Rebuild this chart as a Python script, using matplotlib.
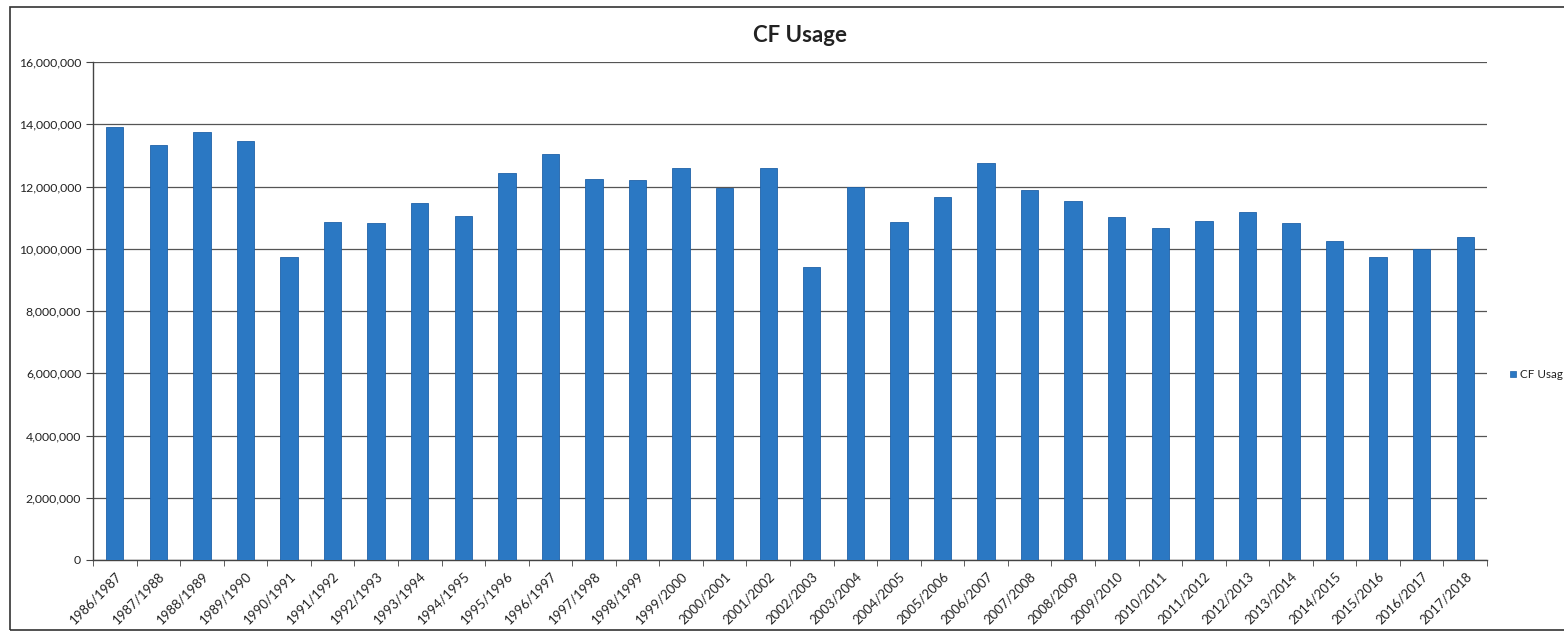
import matplotlib
matplotlib.use("Agg")
import numpy as np
import matplotlib.pyplot as plt
from matplotlib.patches import Rectangle
from matplotlib.ticker import FuncFormatter, MultipleLocator

seasons = ["1986/1987", "1987/1988", "1988/1989", "1989/1990", "1990/1991",
           "1991/1992", "1992/1993", "1993/1994", "1994/1995", "1995/1996",
           "1996/1997", "1997/1998", "1998/1999", "1999/2000", "2000/2001",
           "2001/2002", "2002/2003", "2003/2004", "2004/2005", "2005/2006",
           "2006/2007", "2007/2008", "2008/2009", "2009/2010", "2010/2011",
           "2011/2012", "2012/2013", "2013/2014", "2014/2015", "2015/2016",
           "2016/2017", "2017/2018"]
cf_usage = [13900000, 13320000, 13760000, 13460000, 9740000,
            10870000, 10830000, 11470000, 11060000, 12420000,
            13030000, 12240000, 12210000, 12600000, 11950000,
            12580000, 9400000, 11970000, 10850000, 11650000,
            12750000, 11900000, 11540000, 11020000, 10660000,
            10880000, 11170000, 10820000, 10250000, 9730000,
            9990000, 10380000]
legend_label = "CF Usag"

plt.rcParams["font.family"] = ["Lato", "DejaVu Sans"]
blue = "#2b78c3"

fig = plt.figure(figsize=(15.64, 6.35), dpi=100)
ax = fig.add_axes([93 / 1564, 1 - 560 / 635, (1487 - 93) / 1564, (560 - 62) / 635])

x = np.arange(len(seasons))
ax.bar(x, cf_usage, width=0.4, color=blue, edgecolor="#1f62a8", linewidth=0.6,
       zorder=3)

ax.set_xlim(-0.5, len(seasons) - 0.5)
ax.set_ylim(0, 16000000)
ax.yaxis.set_major_locator(MultipleLocator(2000000))
ax.yaxis.set_major_formatter(FuncFormatter(lambda v, _: f"{v:,.0f}"))
ax.grid(axis="y", color="#555555", linewidth=0.9, zorder=0)

ax.set_xticks(x)
ax.set_xticklabels(seasons, rotation=45, ha="right", rotation_mode="anchor",
                   fontsize=9.5, color="#222222")
ax.tick_params(axis="x", length=0, pad=7)
ax.set_xticks(np.arange(-0.5, len(seasons)), minor=True)
ax.tick_params(axis="x", which="minor", length=4, color="#444444")
ax.tick_params(axis="y", length=5, color="#444444", labelsize=8.8,
               labelcolor="#222222")

for side in ("top", "right"):
    ax.spines[side].set_visible(False)
for side in ("left", "bottom"):
    ax.spines[side].set_color("#444444")
    ax.spines[side].set_linewidth(1.0)

fig.text(800 / 1564, 1 - 35 / 635, "CF Usage", ha="center", va="center",
         fontsize=16, fontweight="bold", color="#222222")

# legend marker and label at the right edge
fig.patches.append(Rectangle((1510 / 1564, 1 - 377 / 635), 6 / 1564, 6 / 635,
                             transform=fig.transFigure, facecolor=blue,
                             edgecolor="#1f62a8", linewidth=0.5))
fig.text(1520 / 1564, 1 - 374 / 635, legend_label, ha="left", va="center",
         fontsize=8.4, color="#222222")

# chart frame
fig.patches.append(Rectangle((10 / 1564, 1 - 630 / 635), 1600 / 1564, 623 / 635,
                             transform=fig.transFigure, fill=False,
                             edgecolor="#333333", linewidth=1.2))

fig.savefig("out.png", dpi=100)
